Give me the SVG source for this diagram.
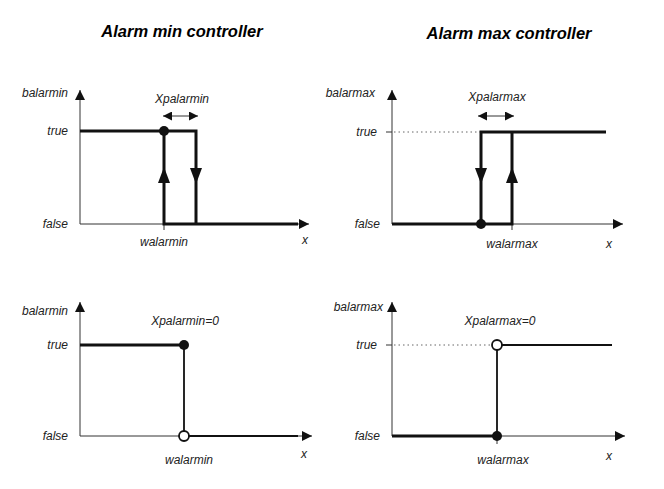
<svg xmlns="http://www.w3.org/2000/svg" width="664" height="489" viewBox="0 0 664 489">
<style>
text{font-family:"Liberation Sans",Arial,sans-serif;font-style:italic;fill:#222;font-size:12px}
.t{font-weight:bold;font-size:16.5px;fill:#000}
.ax{stroke:#333;stroke-width:1;fill:none}
.th{stroke:#111;stroke-width:3;fill:none}
.tn{stroke:#111;stroke-width:1.8;fill:none}
.dot{stroke:#666;stroke-width:1;stroke-dasharray:1.5 3;fill:none}
</style>
<defs>
<marker id="ah" viewBox="0 0 10 10" refX="10" refY="5" markerWidth="10" markerHeight="10" markerUnits="userSpaceOnUse" orient="auto"><path d="M0,0L10,5L0,10z" fill="#111"/></marker>
<marker id="as" viewBox="0 0 10 10" refX="10" refY="5" markerWidth="9" markerHeight="9" markerUnits="userSpaceOnUse" orient="auto-start-reverse"><path d="M0,0L10,5L0,10z" fill="#111"/></marker>
</defs>
<text class="t" x="182" y="37" text-anchor="middle">Alarm min controller</text>
<text class="t" x="509" y="39" text-anchor="middle">Alarm max controller</text>
<g id="chart-tl">
<line class="ax" x1="80" y1="224" x2="80" y2="90" marker-end="url(#ah)"/>
<line class="ax" x1="80" y1="224" x2="309" y2="224" marker-end="url(#ah)"/>
<line class="ax" x1="164" y1="224" x2="164" y2="230"/>
<path class="th" d="M80,131H196V224M164,131V224H298"/>
<path d="M158,183L164,167L170,183z M190,168L196,184L202,168z" fill="#111"/>
<circle cx="164" cy="131" r="5" fill="#111"/>
<line class="ax" x1="163" y1="116" x2="198" y2="116" marker-start="url(#as)" marker-end="url(#as)"/>
<text x="182" y="103" text-anchor="middle">Xpalarmin</text>
<text x="68" y="97" text-anchor="end">balarmin</text>
<text x="68" y="135" text-anchor="end">true</text>
<text x="68" y="228" text-anchor="end">false</text>
<text x="164" y="246" text-anchor="middle">walarmin</text>
<text x="302" y="244">x</text>
</g>
<g id="chart-tr">
<line class="ax" x1="392" y1="224" x2="392" y2="90" marker-end="url(#ah)"/>
<line class="ax" x1="392" y1="224" x2="623" y2="224" marker-end="url(#ah)"/>
<line class="ax" x1="512" y1="224" x2="512" y2="230"/>
<line class="ax" x1="386" y1="132" x2="392" y2="132"/>
<line class="dot" x1="394" y1="132" x2="480" y2="132"/>
<path class="th" d="M606,132H481V224M392,224H512V132"/>
<path d="M475,168L481,184L487,168z M506,183L512,167L518,183z" fill="#111"/>
<circle cx="481" cy="224" r="5" fill="#111"/>
<line class="ax" x1="478" y1="116" x2="514" y2="116" marker-start="url(#as)" marker-end="url(#as)"/>
<text x="497" y="101" text-anchor="middle">Xpalarmax</text>
<text x="375" y="97" text-anchor="end">balarmax</text>
<text x="377" y="136" text-anchor="end">true</text>
<text x="380" y="228" text-anchor="end">false</text>
<text x="512" y="248" text-anchor="middle">walarmax</text>
<text x="606" y="248">x</text>
</g>
<g id="chart-bl">
<line class="ax" x1="80" y1="436" x2="80" y2="302" marker-end="url(#ah)"/>
<line class="ax" x1="80" y1="436" x2="312" y2="436" marker-end="url(#ah)"/>
<path class="th" d="M80,345H184"/>
<path class="tn" d="M184,345V436H298"/>
<circle cx="184" cy="345" r="5" fill="#111"/>
<circle cx="184" cy="436" r="5" fill="#fff" stroke="#111" stroke-width="1.8"/>
<text x="185" y="325" text-anchor="middle">Xpalarmin=0</text>
<text x="68" y="315" text-anchor="end">balarmin</text>
<text x="68" y="349" text-anchor="end">true</text>
<text x="68" y="440" text-anchor="end">false</text>
<text x="189" y="464" text-anchor="middle">walarmin</text>
<text x="301" y="458">x</text>
</g>
<g id="chart-br">
<line class="ax" x1="392" y1="436" x2="392" y2="302" marker-end="url(#ah)"/>
<line class="ax" x1="392" y1="436" x2="625" y2="436" marker-end="url(#ah)"/>
<line class="ax" x1="497" y1="436" x2="497" y2="444"/>
<line class="ax" x1="386" y1="345" x2="392" y2="345"/>
<line class="dot" x1="394" y1="345" x2="492" y2="345"/>
<path class="th" d="M392,436H497"/>
<path class="tn" d="M497,436V345H612"/>
<circle cx="497" cy="436" r="5" fill="#111"/>
<circle cx="497" cy="345" r="5" fill="#fff" stroke="#111" stroke-width="1.8"/>
<text x="500" y="325" text-anchor="middle">Xpalarmax=0</text>
<text x="383" y="311" text-anchor="end">balarmax</text>
<text x="377" y="349" text-anchor="end">true</text>
<text x="380" y="440" text-anchor="end">false</text>
<text x="503" y="464" text-anchor="middle">walarmax</text>
<text x="606" y="460">x</text>
</g>
</svg>
